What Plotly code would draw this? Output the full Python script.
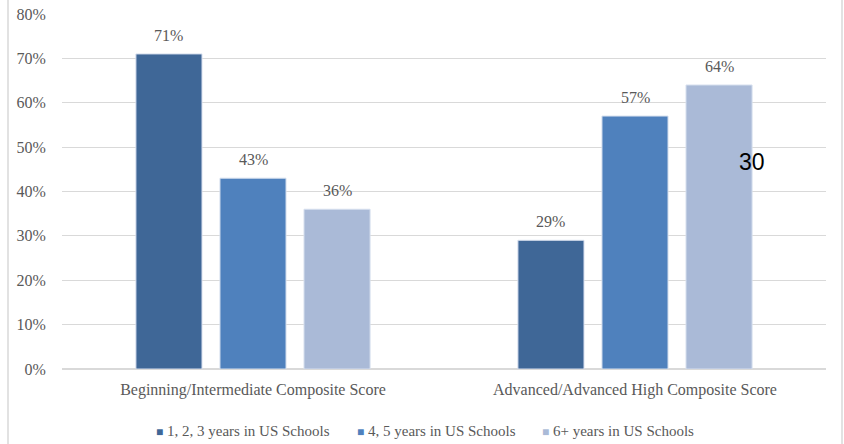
import plotly.graph_objects as go

categories = ["Beginning/Intermediate Composite Score", "Advanced/Advanced High Composite Score"]
series_names = ["1, 2, 3 years in US Schools", "4, 5 years in US Schools", "6+ years in US Schools"]
series_values = [
    [0.71, 0.29],
    [0.43, 0.57],
    [0.36, 0.64],
]
colors = ["#3F6797", "#4F81BD", "#AABAD7"]
tick_vals = [0, 0.1, 0.2, 0.3, 0.4, 0.5, 0.6, 0.7, 0.8]
tick_text = ["0%", "10%", "20%", "30%", "40%", "50%", "60%", "70%", "80%"]

GRAY = "#595959"
label_font = dict(family="Liberation Serif", size=16, color=GRAY)
legend_font = dict(family="Liberation Serif", size=15, color=GRAY)

# bar group geometry (fractions of one category slot)
bargap = 0.34
groupgap = 0.214
n = len(series_names)

fig = go.Figure()
for i, (name, vals, col) in enumerate(zip(series_names, series_values, colors)):
    fig.add_trace(go.Bar(
        x=list(range(len(categories))), y=vals, name=name,
        marker=dict(color=col, line=dict(color="#D6DFEE", width=1)),
        showlegend=False,
    ))
    # value labels above each bar
    slot = (1 - bargap) / n
    for j, v in enumerate(vals):
        xc = j - (1 - bargap) / 2 + slot * (i + 0.5)
        fig.add_annotation(x=xc, y=v, xref="x", yref="y", text=f"{round(v*100)}%",
                           showarrow=False, yanchor="bottom", xanchor="center",
                           yshift=8, font=label_font)

# legend row drawn as coloured squares with their series names
legend_x = [0.120, 0.383, 0.625]
for name, col, lx in zip(series_names, colors, legend_x):
    fig.add_annotation(x=lx, y=-0.176, xref="paper", yref="paper", xanchor="left",
                       yanchor="middle", showarrow=False,
                       text=f"<span style='color:{col};font-size:12px'>■</span> {name}",
                       font=legend_font)

fig.add_annotation(x=0.903, y=0.4665, xref="paper", yref="y", text="30",
                   showarrow=False, xanchor="center", yanchor="middle",
                   font=dict(family="Liberation Sans", size=23, color="#000000"))

# light frame lines on the left and right edges
for xp in [(8 - 62) / 764, (842 - 62) / 764]:
    fig.add_shape(type="line", xref="paper", yref="paper", x0=xp, x1=xp, y0=-0.3, y1=1.1,
                  line=dict(color="#D9D9D9", width=1.5))

fig.update_layout(
    width=844, height=444,
    margin=dict(l=62, r=18, t=14, b=75),
    paper_bgcolor="white", plot_bgcolor="white",
    barmode="group", bargap=bargap, bargroupgap=groupgap,
    showlegend=False,
)
fig.update_yaxes(range=[0, 0.8], tickvals=tick_vals, ticktext=tick_text,
                 showgrid=True, gridcolor="#D9D9D9", gridwidth=1, zeroline=True,
                 zerolinecolor="#D9D9D9", tickfont=label_font, ticks="outside",
                 ticklen=12, tickcolor="rgba(0,0,0,0)", automargin=False)
fig.update_xaxes(tickvals=list(range(len(categories))), ticktext=categories,
                 range=[-0.5, len(categories) - 0.5],
                 tickfont=label_font, showline=False, ticks="outside", ticklen=6,
                 tickcolor="rgba(0,0,0,0)", automargin=False)

fig.write_html("out.html")
